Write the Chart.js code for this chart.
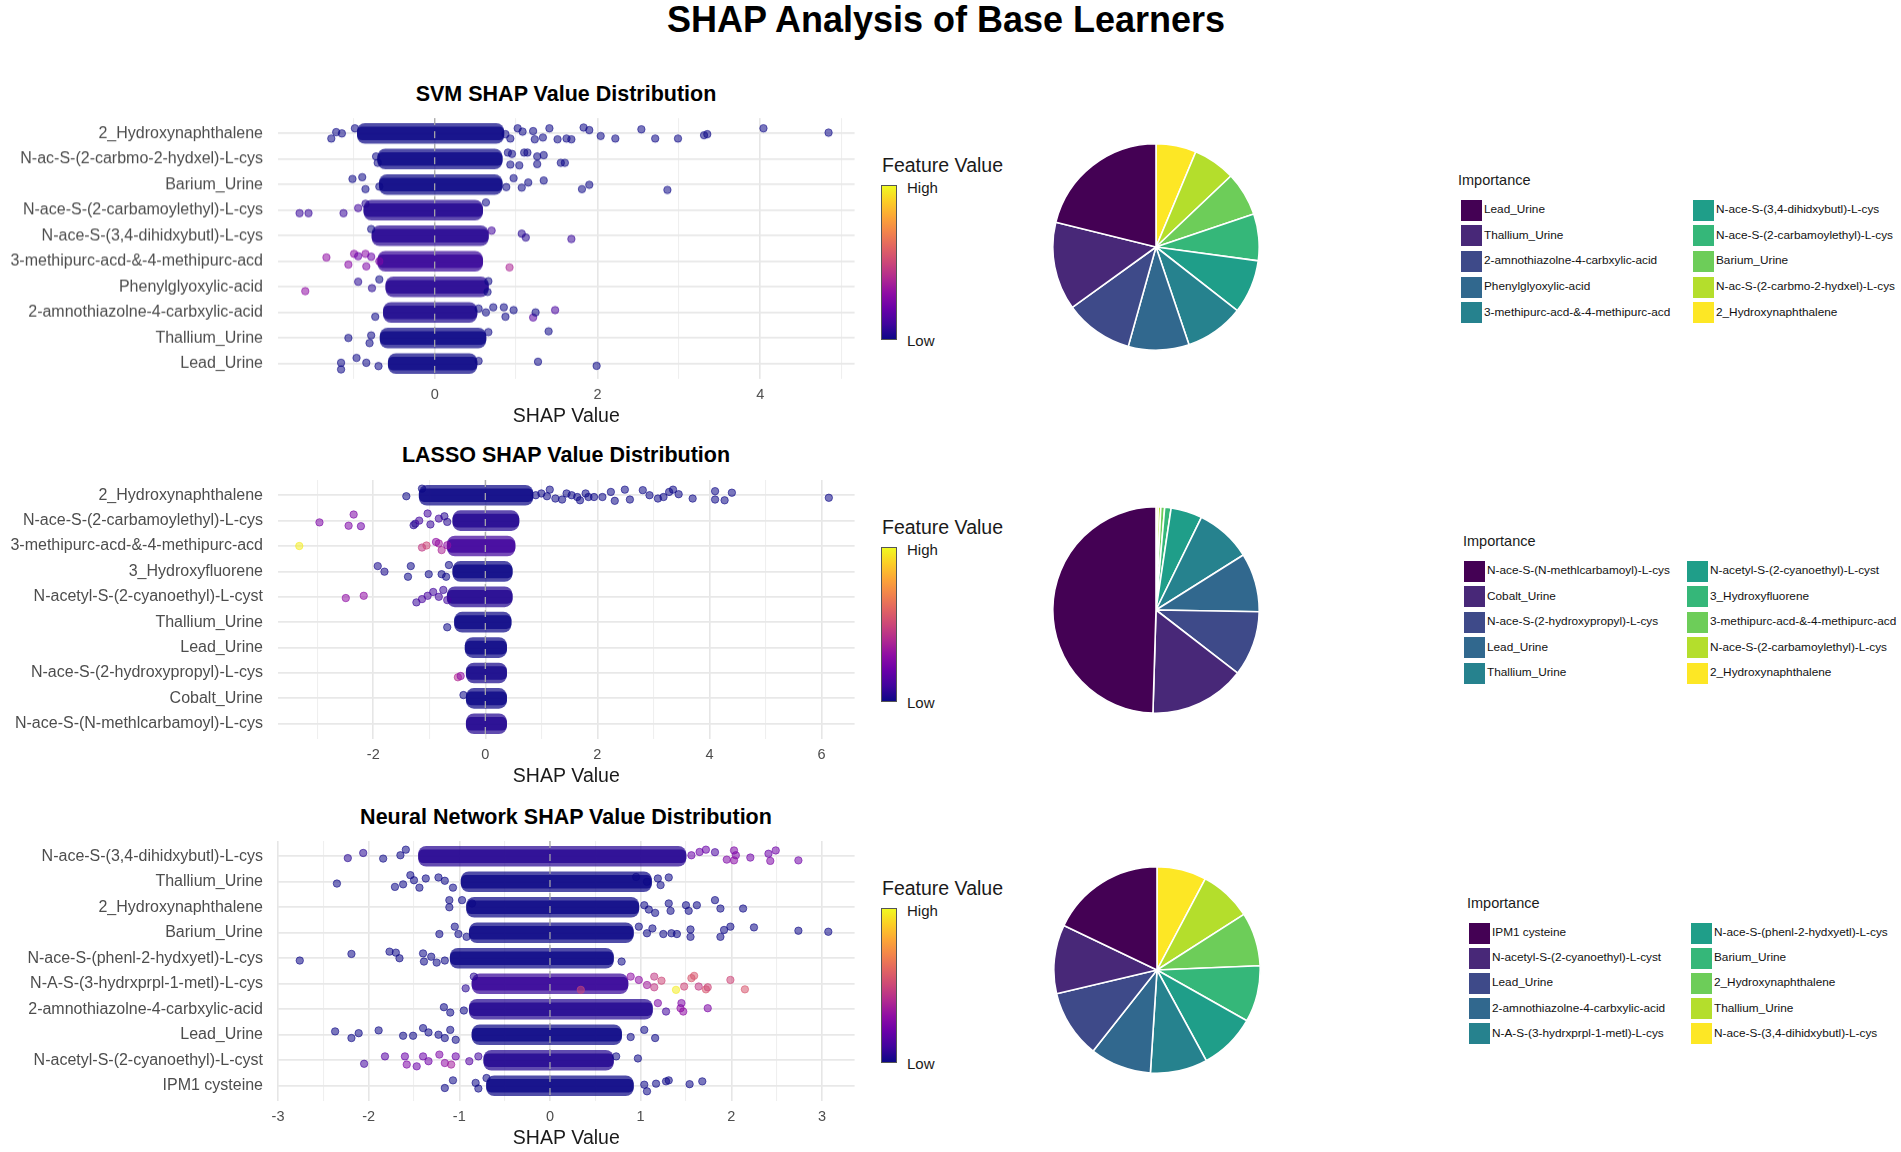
<!DOCTYPE html>
<html>
<head>
<meta charset="utf-8">
<script src="https://cdn.jsdelivr.net/npm/chart.js@4.4.1/dist/chart.umd.min.js"></script>
<style>
  html, body { margin: 0; padding: 0; background: #fff; }
  #page { position: relative; width: 1901px; height: 1152px; overflow: hidden;
          font-family: "Liberation Sans", Arial, sans-serif; }
  .txt { position: absolute; white-space: nowrap; line-height: 1; transform: translateY(-50%); }
  .ctr { transform: translate(-50%, -50%); }
  canvas { position: absolute; }
  .cbar { position: absolute; width: 14px; height: 153px; border: 1px solid #555; }
  .sw { position: absolute; width: 21px; height: 21px; }
</style>
</head>
<body>
<div id="page"></div>
<script>
// ---- data ----
const svmFeatures = ["2_Hydroxynaphthalene", "N-ac-S-(2-carbmo-2-hydxel)-L-cys", "Barium_Urine",
  "N-ace-S-(2-carbamoylethyl)-L-cys", "N-ace-S-(3,4-dihidxybutl)-L-cys", "3-methipurc-acd-&-4-methipurc-acd",
  "Phenylglyoxylic-acid", "2-amnothiazolne-4-carbxylic-acid", "Thallium_Urine", "Lead_Urine"];
const lassoFeatures = ["2_Hydroxynaphthalene", "N-ace-S-(2-carbamoylethyl)-L-cys", "3-methipurc-acd-&-4-methipurc-acd",
  "3_Hydroxyfluorene", "N-acetyl-S-(2-cyanoethyl)-L-cyst", "Thallium_Urine", "Lead_Urine",
  "N-ace-S-(2-hydroxypropyl)-L-cys", "Cobalt_Urine", "N-ace-S-(N-methlcarbamoyl)-L-cys"];
const nnFeatures = ["N-ace-S-(3,4-dihidxybutl)-L-cys", "Thallium_Urine", "2_Hydroxynaphthalene", "Barium_Urine",
  "N-ace-S-(phenl-2-hydxyetl)-L-cys", "N-A-S-(3-hydrxprpl-1-metl)-L-cys", "2-amnothiazolne-4-carbxylic-acid",
  "Lead_Urine", "N-acetyl-S-(2-cyanoethyl)-L-cyst", "IPM1 cysteine"];

// dense band of each row: SHAP range and mean feature value
const svmCoreLo = [-0.95, -0.70, -0.68, -0.87, -0.77, -0.70, -0.60, -0.63, -0.67, -0.57];
const svmCoreHi = [0.85, 0.83, 0.83, 0.59, 0.66, 0.59, 0.66, 0.52, 0.63, 0.52];
const svmCoreTone = [0, 0, 0, 0.04, 0.05, 0.08, 0.05, 0.03, 0, 0];
const lassoCoreLo = [-1.18, -0.58, -0.68, -0.58, -0.68, -0.55, -0.36, -0.34, -0.34, -0.34];
const lassoCoreHi = [0.85, 0.60, 0.53, 0.48, 0.48, 0.46, 0.38, 0.38, 0.38, 0.38];
const lassoCoreTone = [0, 0.04, 0.1, 0, 0.04, 0, 0, 0.02, 0, 0.04];
const nnCoreLo = [-1.45, -0.98, -0.92, -0.89, -1.10, -0.86, -0.89, -0.86, -0.73, -0.70];
const nnCoreHi = [1.50, 1.12, 0.98, 0.92, 0.70, 0.86, 1.13, 0.79, 0.70, 0.92];
const nnCoreTone = [0.05, 0, 0, 0, 0, 0.08, 0.04, 0, 0.04, 0];

// scattered points: [row, SHAP value, vertical jitter (rows), feature value 0..1]
const svmPoints = [
  [1,-1.27,0.2,0],[1,-1.21,-0.05,0],[1,-1.14,0,0],[1,-0.98,-0.2,0],[1,0.87,0.03,0],[1,0.93,0.2,0],
  [1,1.02,-0.2,0],[1,1.08,-0.07,0],[1,1.21,-0.09,0],[1,1.23,0.23,0],[1,1.33,0.16,0],[1,1.41,-0.2,0],
  [1,1.51,0.23,0],[1,1.62,0.2,0],[1,1.68,0.23,0],[1,1.83,-0.23,0],[1,1.9,-0.13,0],[1,2.04,0.1,0],
  [1,2.22,0.2,0],[1,2.54,-0.16,0],[1,2.71,0.2,0],[1,2.99,0.2,0],[1,3.31,0.07,0],[1,3.35,0.03,0],
  [1,4.04,-0.2,0],[1,4.84,-0.03,0],
  [2,-0.72,-0.1,0],[2,-0.7,0.15,0],[2,0.9,-0.25,0],[2,0.95,-0.2,0],[2,1.1,-0.25,0],[2,1.14,-0.25,0],
  [2,1.26,-0.1,0],[2,1.34,-0.15,0],[2,1.55,0.15,0],[2,1.6,0.15,0],[2,1.04,0.25,0],[2,0.93,0.22,0],[2,1.26,0.2,0],
  [3,-1.01,-0.22,0],[3,-0.89,-0.29,0],[3,-0.85,0.18,0],[3,-0.68,0.08,0],[3,0.88,0.1,0],[3,0.97,-0.25,0],
  [3,1.07,0.12,0],[3,1.15,-0.08,0],[3,1.34,-0.16,0],[3,1.81,0.18,0],[3,1.9,0.01,0],[3,2.86,0.21,0],
  [4,-1.66,0.12,0.08],[4,-1.55,0.12,0.08],[4,-1.12,0.12,0.08],[4,-0.94,-0.08,0.1],[4,-0.85,-0.25,0.05],[4,0.63,-0.3,0],
  [5,-0.78,-0.26,0],[5,0.7,-0.2,0.1],[5,1.07,-0.08,0.05],[5,1.12,0.07,0.05],[5,1.68,0.13,0.08],
  [6,-1.33,-0.15,0.3],[6,-1.06,0.13,0.28],[6,-0.99,-0.29,0.28],[6,-0.94,-0.2,0.2],[6,-0.85,-0.29,0.28],
  [6,-0.84,0.2,0.25],[6,-0.78,-0.18,0.2],[6,-0.68,0,0.25],[6,0.92,0.24,0.38],
  [7,-1.59,0.17,0.3],[7,-0.94,-0.2,0.05],[7,-0.77,0.05,0.05],[7,-0.68,-0.29,0],[7,0.65,0.2,0],[7,0.66,-0.22,0],
  [8,-0.73,0.17,0],[8,0.54,-0.15,0],[8,0.63,0,0],[8,0.72,-0.2,0],[8,0.87,0.17,0],[8,0.85,-0.2,0],
  [8,0.97,-0.09,0],[8,1.21,0.2,0.15],[8,1.24,0,0],[8,1.48,-0.09,0.12],
  [9,-1.06,0,0],[9,-0.78,-0.1,0],[9,-0.8,0.2,0],[9,0.66,-0.23,0],[9,1.4,-0.26,0],
  [10,-1.15,-0.03,0],[10,-1.15,0.23,0],[10,-0.96,-0.22,0],[10,-0.84,-0.03,0],[10,-0.69,0.1,0],
  [10,0.54,-0.1,0],[10,1.27,-0.07,0],[10,1.99,0.09,0]
];
const lassoPoints = [
  [1,-1.41,0.04,0],[1,-1.13,-0.26,0],[1,0.9,0,0],[1,1.0,-0.07,0],[1,1.1,0.04,0],[1,1.15,-0.22,0],
  [1,1.25,0.13,0],[1,1.37,0.17,0],[1,1.45,-0.07,0],[1,1.54,0,0],[1,1.64,0.07,0],[1,1.69,0.2,0],
  [1,1.79,-0.07,0],[1,1.84,0.07,0],[1,1.94,0.07,0],[1,2.09,0.07,0],[1,2.24,-0.13,0],[1,2.31,0.22,0],
  [1,2.49,-0.22,0],[1,2.58,0.17,0],[1,2.81,-0.2,0],[1,2.93,0,0],[1,3.08,0.13,0],[1,3.18,0.07,0],
  [1,3.28,-0.13,0],[1,3.35,-0.22,0],[1,3.45,-0.04,0],[1,3.7,0.13,0],[1,4.1,-0.16,0],[1,4.1,0.17,0],
  [1,4.27,0.2,0],[1,4.4,-0.1,0],[1,6.13,0.1,0],
  [2,-2.96,0.07,0.25],[2,-2.35,-0.24,0.25],[2,-2.44,0.2,0.25],[2,-2.22,0.22,0.22],[2,-1.28,0.18,0.05],
  [2,-1.25,0.12,0.05],[2,-1.03,-0.28,0.1],[2,-1.18,0,0.1],[2,-0.98,0.15,0.08],[2,-0.83,-0.08,0.1],
  [2,-0.73,-0.17,0.05],[2,-0.68,0.05,0.05],
  [3,-3.32,0,0.97],[3,-1.13,0.06,0.45],[3,-1.05,-0.02,0.5],[3,-0.83,-0.1,0.35],[3,-0.78,0.16,0.38],
  [3,-0.88,-0.16,0.3],[3,-0.68,-0.03,0.3],
  [4,-1.92,-0.21,0.02],[4,-1.8,0.01,0.02],[4,-1.33,-0.21,0],[4,-1.38,0.21,0],[4,-1.01,0.11,0],
  [4,-0.78,0.11,0],[4,-0.65,-0.25,0],[4,-0.7,0.21,0],
  [5,-2.49,0.05,0.3],[5,-2.17,-0.04,0.3],[5,-1.23,0.22,0.08],[5,-1.13,0.09,0.12],[5,-1.03,-0.04,0.12],
  [5,-0.93,-0.19,0.1],[5,-0.75,-0.27,0.08],[5,-0.83,0,0.1],[5,-0.68,0.13,0.1],
  [6,-0.68,0.2,0],
  [8,-0.49,0.17,0.4],[8,-0.44,0.12,0.3],
  [9,-0.39,-0.13,0]
];
const nnPoints = [
  [1,-2.23,0.07,0.05],[1,-2.06,-0.13,0.05],[1,-1.84,0.09,0],[1,-1.65,-0.04,0],[1,-1.59,-0.26,0],
  [1,1.56,-0.04,0.2],[1,1.65,-0.17,0.2],[1,1.72,-0.26,0.2],[1,1.82,-0.16,0.12],[1,1.95,0.13,0.25],
  [1,2.03,-0.23,0.25],[1,2.05,-0.04,0.25],[1,2.03,0.16,0.28],[1,2.21,0.05,0.22],[1,2.41,-0.1,0.2],
  [1,2.43,0.18,0.25],[1,2.49,-0.23,0.22],[1,2.74,0.16,0.22],
  [2,-2.35,0.07,0],[2,-1.71,0.2,0],[2,-1.62,0.1,0],[2,-1.54,-0.26,0],[2,-1.5,-0.06,0],[2,-1.44,0.23,0],
  [2,-1.37,-0.13,0],[2,-1.23,-0.17,0],[2,-1.16,-0.04,0],[2,-1.07,0.23,0],[2,0.95,-0.19,0],[2,1.07,0,0],
  [2,1.19,-0.13,0],[2,1.22,0.13,0],[2,1.31,-0.17,0],
  [3,-1.11,-0.28,0],[3,-1.11,0,0],[3,-0.97,-0.28,0],[3,-0.86,-0.15,0],[3,1.04,-0.08,0],[3,1.09,0.09,0],
  [3,1.16,0.22,0],[3,1.31,-0.15,0],[3,1.33,0.14,0],[3,1.5,-0.08,0],[3,1.53,0.14,0],[3,1.62,-0.08,0],
  [3,1.82,-0.28,0],[3,1.88,0.05,0],[3,2.13,0.05,0],
  [4,-1.22,0.05,0],[4,-1.05,-0.24,0],[4,-1.01,0.05,0],[4,-0.92,0.16,0],[4,0.98,-0.24,0],[4,1.07,0.02,0],
  [4,1.13,-0.17,0],[4,1.25,0.05,0],[4,1.34,0.02,0],[4,1.4,0.05,0],[4,1.55,-0.13,0],[4,1.55,0.16,0],
  [4,1.88,0.16,0],[4,1.92,-0.11,0],[4,1.99,-0.24,0],[4,2.25,-0.21,0],[4,2.74,-0.08,0],[4,3.07,-0.04,0],
  [5,-2.76,0.09,0],[5,-2.19,-0.17,0],[5,-1.77,-0.26,0],[5,-1.7,-0.22,0],[5,-1.66,0,0],[5,-1.4,-0.19,0],
  [5,-1.39,0.13,0],[5,-1.31,-0.06,0],[5,-1.25,0.17,0],[5,-1.16,0.09,0],[5,0.79,0.13,0],
  [6,-0.93,0.18,0.05],[6,-0.84,-0.28,0.05],[6,0.34,0.24,0.5],[6,0.89,-0.28,0.3],[6,0.98,-0.15,0.3],
  [6,1.07,0.05,0.35],[6,1.15,-0.28,0.45],[6,1.23,-0.12,0.5],[6,1.15,0.14,0.45],[6,1.39,0.24,0.97],
  [6,1.48,0.11,0.5],[6,1.56,-0.22,0.55],[6,1.59,-0.31,0.55],[6,1.64,0.11,0.45],[6,1.72,0.22,0.55],
  [6,1.74,0.14,0.5],[6,1.99,-0.15,0.5],[6,2.15,0.22,0.55],
  [7,-1.17,-0.08,0],[7,-1.1,0.13,0],[7,-0.95,0.05,0],[7,1.19,-0.24,0.25],[7,1.28,0.09,0.1],
  [7,1.44,-0.04,0.3],[7,1.45,-0.24,0.25],[7,1.47,0.09,0.3],[7,1.74,-0.04,0.25],
  [8,-2.37,-0.13,0],[8,-2.19,0.13,0],[8,-2.11,-0.06,0],[8,-1.89,-0.17,0],[8,-1.62,0.04,0],[8,-1.51,0.04,0],
  [8,-1.4,-0.26,0],[8,-1.34,-0.09,0],[8,-1.23,0,0],[8,-1.16,0.13,0],[8,-1.1,-0.19,0],[8,-1.04,0.2,0],
  [8,0.89,0.09,0],[8,1.04,-0.19,0],[8,1.16,0.13,0],
  [9,-2.05,0.14,0.1],[9,-1.82,-0.15,0.15],[9,-1.6,-0.15,0.2],[9,-1.58,0.17,0.25],[9,-1.47,0.24,0.2],
  [9,-1.4,-0.15,0.2],[9,-1.34,0.04,0.22],[9,-1.22,-0.22,0.25],[9,-1.16,0.11,0.3],[9,-1.09,0.17,0.35],
  [9,-1.04,-0.15,0.2],[9,-0.89,0.04,0.15],[9,-0.79,-0.15,0.1],[9,0.73,-0.15,0],[9,0.97,-0.07,0],
  [10,-1.16,0.09,0],[10,-1.07,-0.21,0],[10,-0.82,-0.11,0],[10,-0.79,0.11,0],[10,-0.7,-0.3,0],
  [10,1.04,-0.04,0],[10,1.07,0.22,0],[10,1.17,-0.08,0],[10,1.28,-0.17,0],[10,1.31,-0.21,0],
  [10,1.54,-0.06,0],[10,1.68,-0.17,0]
];

// labelled x ticks
const svmTicks = [0, 2, 4];
const lassoTicks = [-2, 0, 2, 4, 6];
const nnTicks = [-3, -2, -1, 0, 1, 2, 3];

// importance shares (%) in legend order
const svmImportanceNames = ["Lead_Urine", "Thallium_Urine", "2-amnothiazolne-4-carbxylic-acid", "Phenylglyoxylic-acid",
  "3-methipurc-acd-&-4-methipurc-acd", "N-ace-S-(3,4-dihidxybutl)-L-cys", "N-ace-S-(2-carbamoylethyl)-L-cys",
  "Barium_Urine", "N-ac-S-(2-carbmo-2-hydxel)-L-cys", "2_Hydroxynaphthalene"];
const svmImportance = [21.1, 13.8, 10.7, 9.5, 9.25, 8.4, 7.3, 6.9, 6.6, 6.3];
const lassoImportanceNames = ["N-ace-S-(N-methlcarbamoyl)-L-cys", "Cobalt_Urine", "N-ace-S-(2-hydroxypropyl)-L-cys",
  "Lead_Urine", "Thallium_Urine", "N-acetyl-S-(2-cyanoethyl)-L-cyst", "3_Hydroxyfluorene",
  "3-methipurc-acd-&-4-methipurc-acd", "N-ace-S-(2-carbamoylethyl)-L-cys", "2_Hydroxynaphthalene"];
const lassoImportance = [49.5, 15.0, 10.2, 9.2, 8.8, 4.9, 1.0, 0.6, 0.4, 0.35];
const nnImportanceNames = ["IPM1 cysteine", "N-acetyl-S-(2-cyanoethyl)-L-cyst", "Lead_Urine",
  "2-amnothiazolne-4-carbxylic-acid", "N-A-S-(3-hydrxprpl-1-metl)-L-cys", "N-ace-S-(phenl-2-hydxyetl)-L-cys",
  "Barium_Urine", "2_Hydroxynaphthalene", "Thallium_Urine", "N-ace-S-(3,4-dihidxybutl)-L-cys"];
const nnImportance = [17.9, 10.8, 10.7, 9.6, 8.95, 8.9, 8.85, 8.4, 8.2, 7.75];

// ---- palettes ----
const PLASMA = ["#0d0887", "#41049d", "#6a00a8", "#8f0da4", "#b12a90", "#cc4778",
                "#e16462", "#f2844b", "#fca636", "#fcce25", "#f0f921"];
const VIRIDIS = ["#440154", "#482878", "#3e4a89", "#31688e", "#26828e",
                 "#1f9e89", "#35b779", "#6dcd59", "#b4de2c", "#fde725"];

function hexRgb(h) {
  return [parseInt(h.slice(1, 3), 16), parseInt(h.slice(3, 5), 16), parseInt(h.slice(5, 7), 16)];
}
function plasma(t, a) {
  t = Math.max(0, Math.min(1, t));
  const p = t * (PLASMA.length - 1);
  const i = Math.min(Math.floor(p), PLASMA.length - 2);
  const f = p - i;
  const c0 = hexRgb(PLASMA[i]), c1 = hexRgb(PLASMA[i + 1]);
  const c = c0.map((v, k) => Math.round(v + (c1[k] - v) * f));
  return `rgba(${c[0]},${c[1]},${c[2]},${a})`;
}

// ---- page helpers ----
const page = document.getElementById("page");
const FONT = '"Liberation Sans", Arial, sans-serif';
Chart.defaults.font.family = FONT;

function addText(str, x, y, size, opts = {}) {
  const d = document.createElement("div");
  d.className = "txt" + (opts.center ? " ctr" : "");
  d.textContent = str;
  d.style.left = x + "px";
  d.style.top = y + "px";
  d.style.fontSize = size + "px";
  d.style.color = opts.color || "#000";
  if (opts.bold) d.style.fontWeight = "bold";
  page.appendChild(d);
}
function addCanvas(x, y, w, h) {
  const c = document.createElement("canvas");
  c.width = w; c.height = h;
  c.style.left = x + "px"; c.style.top = y + "px";
  c.style.width = w + "px"; c.style.height = h + "px";
  page.appendChild(c);
  return c;
}

// ---- layout ----
const panels = [
  { title: "SVM SHAP Value Distribution", feats: svmFeatures, lo: svmCoreLo, hi: svmCoreHi, tone: svmCoreTone,
    pts: svmPoints, ticks: svmTicks, xMin: -1.925, xMax: 5.16, step: 1,
    names: svmImportanceNames, imp: svmImportance, off: 0, titleY: 95, top: 118, bottom: 378.6,
    pie: [1156, 247], legend: { x: 1458, cols: [1461, 1693], row: 210, step: 25.7 } },
  { title: "LASSO SHAP Value Distribution", feats: lassoFeatures, lo: lassoCoreLo, hi: lassoCoreHi, tone: lassoCoreTone,
    pts: lassoPoints, ticks: lassoTicks, xMin: -3.70, xMax: 6.59, step: 1,
    names: lassoImportanceNames, imp: lassoImportance, off: 361.7, titleY: 456, top: 479.7, bottom: 739.3,
    pie: [1156, 610], legend: { x: 1463, cols: [1464, 1687], row: 571, step: 25.6 } },
  { title: "Neural Network SHAP Value Distribution", feats: nnFeatures, lo: nnCoreLo, hi: nnCoreHi, tone: nnCoreTone,
    pts: nnPoints, ticks: nnTicks, xMin: -3.0, xMax: 3.36, step: 0.5,
    names: nnImportanceNames, imp: nnImportance, off: 722.7, titleY: 818, top: 840.7, bottom: 1101.3,
    pie: [1157, 970], legend: { x: 1467, cols: [1469, 1691], row: 933, step: 25.2 } }
];

addText("SHAP Analysis of Base Learners", 946, 20, 36, { bold: true, center: true });

function swarmChart(p) {
  // top padding must exceed the y axis label half-height + tick padding,
  // otherwise Chart.js pushes the plot area down
  const PAD_TOP = 30, AXIS_H = 49;
  const cv = addCanvas(0, p.top - PAD_TOP, 870, (p.bottom - p.top) + PAD_TOP + AXIS_H);
  const rows = p.feats.map((f, i) => i + 1);
  const isMajor = v => p.ticks.includes(v);
  return new Chart(cv, {
    type: "scatter",
    data: {
      datasets: [
        { type: "bar", indexAxis: "y", grouped: false, order: 4,
          data: rows.map(r => ({ y: r, x: [p.lo[r - 1], p.hi[r - 1]] })),
          backgroundColor: rows.map(r => plasma(p.tone[r - 1], 0.72)),
          barThickness: 20, borderRadius: 8, borderSkipped: false, borderWidth: 0 },
        { type: "bar", indexAxis: "y", grouped: false, order: 3,
          data: rows.map(r => ({ y: r, x: [p.lo[r - 1], p.hi[r - 1]] })),
          backgroundColor: rows.map(r => plasma(p.tone[r - 1], 0.8)),
          barThickness: 13, borderRadius: 5, borderSkipped: false, borderWidth: 0 },
        { type: "scatter", order: 2,
          data: p.pts.map(q => ({ x: q[1], y: q[0] + q[2] })),
          pointRadius: 3.7,
          pointBackgroundColor: p.pts.map(q => plasma(q[3], 0.55)),
          pointBorderColor: p.pts.map(q => plasma(q[3], 0.75)),
          pointBorderWidth: 0.8 },
        { type: "line", order: 1,
          data: [{ x: 0, y: 0.4 }, { x: 0, y: 10.6 }],
          borderColor: "rgba(170,170,170,0.95)", borderWidth: 1.3, borderDash: [7, 6],
          pointRadius: 0, fill: false }
      ]
    },
    options: {
      responsive: false,
      animation: false,
      layout: { padding: { top: PAD_TOP, right: 870 - 854.6, bottom: 0, left: 0 } },
      plugins: { legend: { display: false }, tooltip: { enabled: false } },
      scales: {
        x: {
          type: "linear", min: p.xMin, max: p.xMax, offset: false,
          border: { display: false },
          grid: {
            drawTicks: false, offset: false,
            color: c => isMajor(c.tick.value) ? "#e6e6e6" : "#efefef",
            lineWidth: c => isMajor(c.tick.value) ? 1.6 : 1.1
          },
          ticks: {
            stepSize: p.step, includeBounds: false, autoSkip: false, maxRotation: 0,
            padding: 7, color: "#4d4d4d", font: { size: 14.5 },
            callback: v => isMajor(v) ? String(v) : ""
          },
          title: { display: true, text: "SHAP Value", color: "#1a1a1a", font: { size: 19.5 }, padding: 0 },
          afterFit: s => { s.height = AXIS_H; }
        },
        y: {
          type: "linear", reverse: true, min: 0.4, max: 10.6, offset: false,
          border: { display: false },
          grid: { drawTicks: false, offset: false, color: "#e8e8e8", lineWidth: 1.8 },
          ticks: {
            stepSize: 1, includeBounds: false, autoSkip: false,
            padding: 15, color: "#4d4d4d", font: { size: 16 },
            callback: v => p.feats[v - 1] || ""
          },
          afterFit: s => { s.width = 278; }
        }
      }
    }
  });
}

function pieChart(p) {
  const R = 104;
  const cv = addCanvas(p.pie[0] - R, p.pie[1] - R, 2 * R, 2 * R);
  // the pie runs clockwise from 12 o'clock, starting with the last legend entry
  const vals = p.imp.slice().reverse();
  const cols = VIRIDIS.slice().reverse();
  return new Chart(cv, {
    type: "pie",
    data: {
      labels: p.names.slice().reverse(),
      datasets: [{ data: vals, backgroundColor: cols, borderColor: "#ffffff", borderWidth: 1.6 }]
    },
    options: {
      responsive: false,
      animation: false,
      layout: { padding: 0 },
      plugins: { legend: { display: false }, tooltip: { enabled: false } }
    }
  });
}

function colorBar(p) {
  const o = p.off;
  addText("Feature Value", 882, 166 + o, 19.5, { color: "#1a1a1a" });
  const b = document.createElement("div");
  b.className = "cbar";
  b.style.left = "881px";
  b.style.top = (185 + o) + "px";
  b.style.background = "linear-gradient(to top, " + PLASMA.join(", ") + ")";
  page.appendChild(b);
  addText("High", 907, 187 + o, 15, { color: "#1a1a1a" });
  addText("Low", 907, 340 + o, 15, { color: "#1a1a1a" });
}

function importanceLegend(p) {
  const L = p.legend;
  addText("Importance", L.x, L.row - 30, 14.5, { color: "#1a1a1a" });
  p.names.forEach((n, i) => {
    const col = i < 5 ? 0 : 1;
    const cy = L.row + (i % 5) * L.step;
    const sw = document.createElement("div");
    sw.className = "sw";
    sw.style.left = L.cols[col] + "px";
    sw.style.top = (cy - 10.5) + "px";
    sw.style.background = VIRIDIS[i];
    page.appendChild(sw);
    addText(n, L.cols[col] + 23, cy, 11.8, { color: "#111" });
  });
}

panels.forEach(p => {
  addText(p.title, 566, p.titleY, 21.5, { bold: true, center: true });
  swarmChart(p);
  colorBar(p);
  pieChart(p);
  importanceLegend(p);
});
</script>
</body>
</html>
